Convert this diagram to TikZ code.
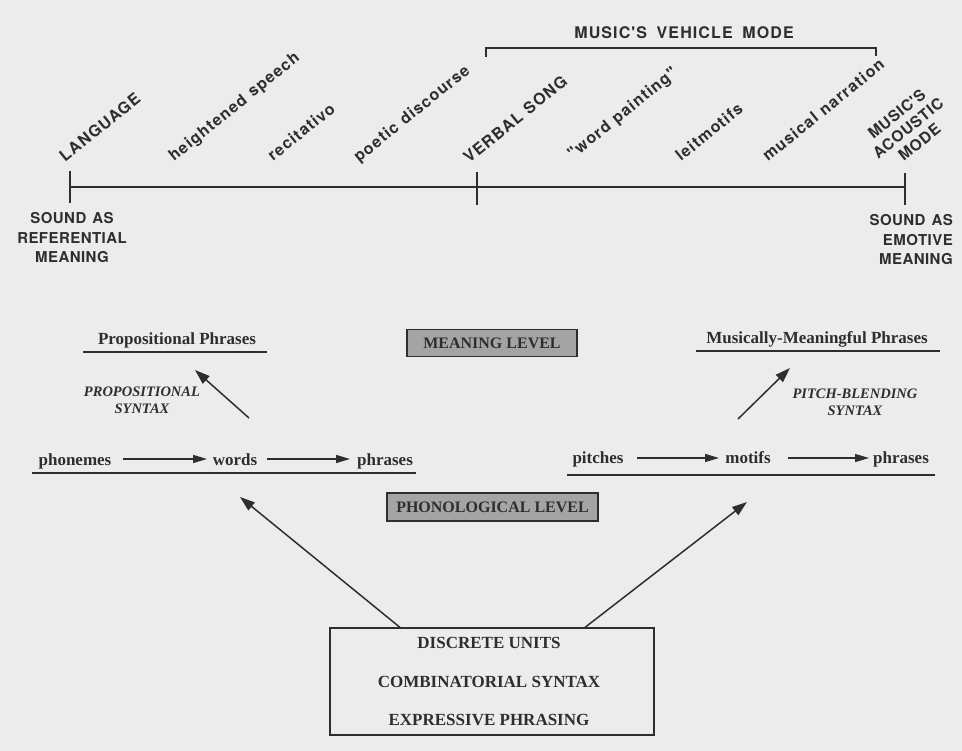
\documentclass[tikz,border=0pt]{standalone}
\usepackage{fontspec}
\setmainfont{Liberation Serif}
\setsansfont{TeX Gyre Heros}
\usetikzlibrary{arrows.meta}
\definecolor{paper}{HTML}{ECECEC}
\definecolor{ink}{HTML}{2E2E2E}
\definecolor{boxgray}{HTML}{A4A4A4}
\newfontfamily\spacedsans[LetterSpace=7]{TeX Gyre Heros}
\newfontfamily\spacedsanslt[LetterSpace=3]{TeX Gyre Heros}
\newfontfamily\spacedsansmd[LetterSpace=5]{TeX Gyre Heros}
\tikzset{
  lbl/.style={font=\spacedsans\bfseries\fontsize{16}{16}\selectfont, text=ink, inner sep=0pt},
  rot/.style={lbl, rotate=39, anchor=base west},
  endl/.style={text=ink, inner sep=0pt, font=\spacedsanslt\bfseries\fontsize{15}{19.5}\selectfont},
  ser/.style={font=\rmfamily\bfseries\fontsize{17}{17}\selectfont, text=ink, inner sep=0pt},
  serit/.style={font=\rmfamily\bfseries\itshape\fontsize{14.5}{17}\selectfont, text=ink, inner sep=0pt, align=center},
  lvl/.style={draw=ink, line width=1.2pt, fill=boxgray, minimum height=27pt, inner sep=0pt,
    font=\rmfamily\bfseries\fontsize{16}{16}\selectfont, text=ink},
  ln/.style={draw=ink, line width=1.1pt},
  uline/.style={draw=ink, line width=2.2pt},
  arr/.style={draw=ink, line width=1.3pt, -{Triangle[length=14pt,width=8pt]}},
  darr/.style={draw=ink, line width=1.5pt, -{Triangle[length=15pt,width=10pt]}},
}
\begin{document}
\begin{tikzpicture}[x=1pt,y=-1pt]
\useasboundingbox (0,0) rectangle (962,751);
\fill[paper] (0,0) rectangle (962,751);

% timeline
\coordinate (L) at (70,187);
\coordinate (M) at (477,187);
\coordinate (R) at (905,187);
\draw[ln] (L) -- (R);
\draw[ln] (70,171) -- (70,203);
\draw[ln] (477,172) -- (477,205);
\draw[ln] (905,173) -- (905,205);
% bracket
\coordinate (bl) at (486,48);
\coordinate (br) at (876,48);
\draw[ln] (486,57) -- (bl) -- (br) -- (876,56);
\node[lbl] (vehicle) at (684,33) {MUSIC'S\hspace{0.6em}VEHICLE\hspace{0.6em}MODE};

% rotated labels
\node[rot] (language) at (65,163) {LANGUAGE};
\node[rot] (heightened) at (174,162) {heightened\hspace{0.4em}speech};
\node[rot] (recitativo) at (273,162) {recitativo};
\node[rot] (poetic) at (359,163) {poetic\hspace{0.4em}discourse};
\node[rot] (verbal) at (469,164) {VERBAL\hspace{0.4em}SONG};
\node[rot] (wordp) at (573,160) {"word\hspace{0.4em}painting"};
\node[rot] (leit) at (681,162) {leitmotifs};
\node[rot] (narr) at (768,162) {musical\hspace{0.4em}narration};
\node[lbl, rotate=39, align=center, font=\spacedsansmd\bfseries\fontsize{15.5}{18}\selectfont] (acoustic) at (908,128) {MUSIC'S\\ACOUSTIC\\MODE};

% end labels
\node[endl, align=center] (refm) at (72,238) {SOUND\hspace{0.4em}AS\\REFERENTIAL\\MEANING};
\node[endl, align=right, anchor=east] (emom) at (953,240) {SOUND\hspace{0.4em}AS\\EMOTIVE\\MEANING};

% meaning level
\node[ser] (propph) at (177,340) {Propositional Phrases};
\draw[uline] (83,352) -- (267,352);
\node[ser] (musph) at (817,339) {Musically-Meaningful Phrases};
\draw[uline] (696,351) -- (940,351);
\node[lvl, minimum width=170pt] (meaning) at (492,343) {MEANING LEVEL};

% syntax labels
\node[serit] (propsyn) at (142,400) {PROPOSITIONAL\\SYNTAX};
\node[serit] (pitchsyn) at (855,402) {PITCH-BLENDING\\SYNTAX};
\coordinate (pa0) at (249,418);
\coordinate (pa1) at (195,370);
\draw[darr] (pa0) -- (pa1);
\coordinate (pb0) at (738,419);
\coordinate (pb1) at (790,368);
\draw[darr] (pb0) -- (pb1);

% phonological rows
\node[ser, anchor=base] (phon) at (75,465) {phonemes};
\node[ser, anchor=base] (words) at (235,465) {words};
\node[ser, anchor=base] (phr1) at (385,465) {phrases};
\draw[arr] (123,459) -- (207,459);
\draw[arr] (267,459) -- (350,459);
\draw[uline] (32,473) -- (416,473);

\node[ser, anchor=base] (pitch) at (598,464) {pitches};
\node[ser, anchor=base] (motifs) at (748,464) {motifs};
\node[ser, anchor=base] (phr2) at (901,464) {phrases};
\draw[arr] (637,458) -- (719,458);
\draw[arr] (788,458) -- (869,458);
\draw[uline] (567,475) -- (935,475);

\node[lvl, minimum width=211pt, minimum height=28pt] (phono) at (492.5,507) {PHONOLOGICAL LEVEL};

% bottom box
\node[draw=ink, line width=1.2pt, minimum width=324pt, minimum height=107pt, inner sep=0pt] (base) at (492,681.5) {};
\node[ser] (du) at (489,643) {DISCRETE UNITS};
\node[ser] (cs) at (489,682) {COMBINATORIAL SYNTAX};
\node[ser] (ep) at (489,720) {EXPRESSIVE PHRASING};

\coordinate (la) at (240,497);
\coordinate (ra) at (747,502);
\draw[darr] (base.north west -| 400,0) -- (la);
\draw[darr] (base.north west -| 585,0) -- (ra);
\end{tikzpicture}
\end{document}
